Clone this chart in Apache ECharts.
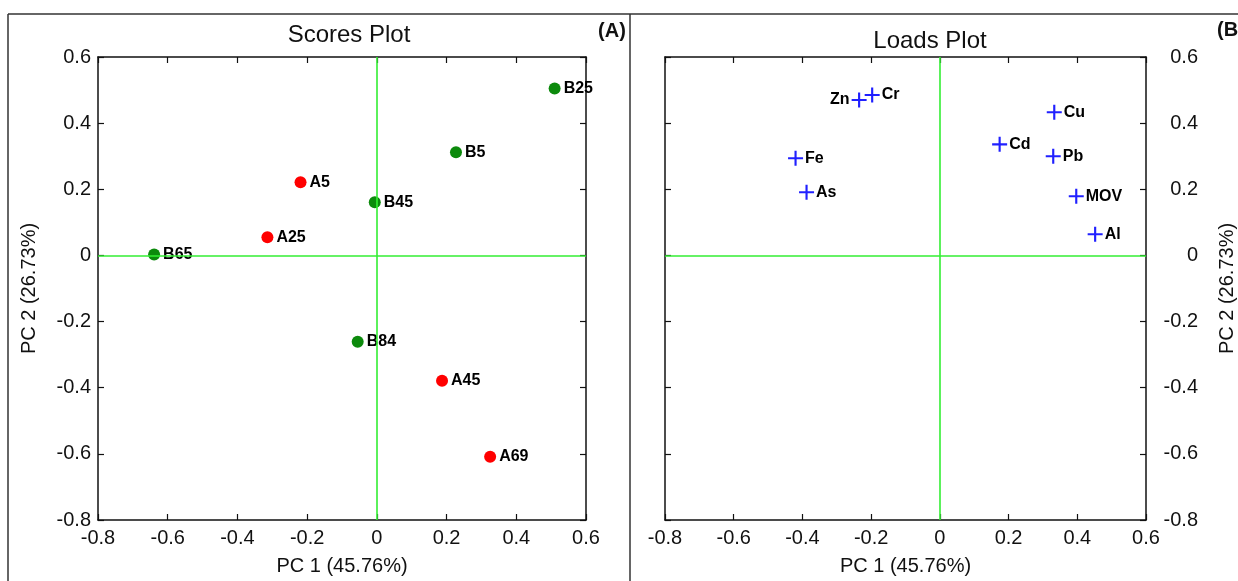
<!DOCTYPE html>
<html><head><meta charset="utf-8">
<script src="https://cdn.jsdelivr.net/npm/echarts@6/dist/echarts.min.js"></script>
<style>html,body{margin:0;padding:0;background:#fff}#c{width:1238px;height:581px}</style>
</head><body><div id="c"></div>
<script>
// Scores (A = red, B = green)
const groupANames = ['A5', 'A25', 'A45', 'A69'];
const groupAX = [-0.219, -0.314, 0.187, 0.325];
const groupAY = [0.221, 0.055, -0.379, -0.609];
const groupBNames = ['B25', 'B5', 'B45', 'B65', 'B84'];
const groupBX = [0.51, 0.227, -0.006, -0.639, -0.055];
const groupBY = [0.505, 0.312, 0.161, 0.003, -0.261];
// Loadings
const loadNames = ['Zn', 'Cr', 'Cu', 'Cd', 'Pb', 'Fe', 'As', 'MOV', 'Al'];
const loadX = [-0.235, -0.197, 0.333, 0.174, 0.330, -0.42, -0.388, 0.397, 0.452];
const loadY = [0.47, 0.485, 0.433, 0.336, 0.30, 0.294, 0.191, 0.179, 0.064];
const tickValues = [-0.8, -0.6, -0.4, -0.2, 0, 0.2, 0.4, 0.6];

const FONT = 'Liberation Sans, Arial, sans-serif';
const axisMin = tickValues[0], axisMax = tickValues[tickValues.length - 1];
const lineCol = '#111';
function axis(opts) {
  return Object.assign({
    type: 'value', min: axisMin, max: axisMax, interval: 0.2,
    splitLine: { show: false },
    axisLine: { show: true, onZero: false, lineStyle: { color: lineCol, width: 1.5 } },
    axisTick: { show: true, inside: true, length: 6, lineStyle: { color: lineCol, width: 1.2 } },
    axisLabel: { show: false }
  }, opts);
}
const labelStyle = { color: '#111', fontSize: 20, fontFamily: FONT, margin: 8 };
const nameStyle = { color: '#111', fontSize: 20, fontFamily: FONT };

function pts(xs, ys, names) { return xs.map((x, i) => ({ value: [x, ys[i]], name: names[i] })); }
const ptLabel = { show: true, position: 'right', distance: 3, formatter: '{b}', color: '#000', fontSize: 16, fontWeight: 'bold', fontFamily: FONT };
const zeroLines = {
  silent: true, symbol: 'none', label: { show: false },
  lineStyle: { color: '#33ee33', width: 1.6, type: 'solid', opacity: 1 },
  data: [{ xAxis: 0 }, { yAxis: 0 }]
};
const crossPath = 'path://M6,0h2v14h-2zM0,6h14v2h-14z';
const loadData = pts(loadX, loadY, loadNames).map(d => d.name === 'Zn' ? Object.assign(d, { label: { position: 'left' } }) : d);

const chart = echarts.init(document.getElementById('c'), null, { renderer: 'canvas' });
chart.setOption({
  animation: false,
  backgroundColor: '#fff',
  title: [
    { text: 'Scores Plot', left: 344, top: 18, textAlign: 'center', textStyle: { fontSize: 24, fontWeight: 'normal', color: '#111', fontFamily: FONT } },
    { text: 'Loads Plot', left: 925, top: 24, textAlign: 'center', textStyle: { fontSize: 24, fontWeight: 'normal', color: '#111', fontFamily: FONT } },
    { text: '(A)', left: 607, top: 16, textAlign: 'center', textStyle: { fontSize: 20, fontWeight: 'bold', color: '#111', fontFamily: FONT } },
    { text: '(B)', left: 1212, top: 15, textStyle: { fontSize: 20, fontWeight: 'bold', color: '#111', fontFamily: FONT } }
  ],
  grid: [
    { left: 98, right: 1238 - 586, top: 57, height: 464 },
    { left: 665, right: 1238 - 1148, top: 57, height: 464 }
  ],
  xAxis: [
    axis({ gridIndex: 0, position: 'bottom', axisLabel: labelStyle, name: 'PC 1 (45.76%)', nameLocation: 'middle', nameGap: 36, nameTextStyle: nameStyle }),
    axis({ gridIndex: 0, position: 'top' }),
    axis({ gridIndex: 1, position: 'bottom', axisLabel: labelStyle, name: 'PC 1 (45.76%)', nameLocation: 'middle', nameGap: 36, nameTextStyle: nameStyle }),
    axis({ gridIndex: 1, position: 'top' })
  ],
  yAxis: [
    axis({ gridIndex: 0, position: 'left', axisLabel: Object.assign({}, labelStyle, { margin: 7 }), name: 'PC 2 (26.73%)', nameLocation: 'middle', nameGap: 59, nameRotate: 90, nameTextStyle: nameStyle }),
    axis({ gridIndex: 0, position: 'right' }),
    axis({ gridIndex: 1, position: 'right', axisLabel: Object.assign({}, labelStyle, { margin: 52, align: 'right' }), name: 'PC 2 (26.73%)', nameLocation: 'middle', nameGap: 71, nameRotate: 90, nameTextStyle: nameStyle }),
    axis({ gridIndex: 1, position: 'left' })
  ],
  series: [
    { type: 'scatter', xAxisIndex: 0, yAxisIndex: 0, data: [], markLine: zeroLines },
    { type: 'scatter', name: 'A', xAxisIndex: 0, yAxisIndex: 0, symbol: 'circle', symbolSize: 12, itemStyle: { color: '#ff0000', opacity: 1 }, label: ptLabel, data: pts(groupAX, groupAY, groupANames) },
    { type: 'scatter', name: 'B', xAxisIndex: 0, yAxisIndex: 0, symbol: 'circle', symbolSize: 12, itemStyle: { color: '#0c8a0c', opacity: 1 }, label: ptLabel, data: pts(groupBX, groupBY, groupBNames) },
    { type: 'scatter', xAxisIndex: 2, yAxisIndex: 2, data: [], markLine: zeroLines },
    { type: 'scatter', name: 'Loads', xAxisIndex: 2, yAxisIndex: 2, symbol: crossPath, symbolSize: 15, itemStyle: { color: '#2020ff', opacity: 1 }, label: Object.assign({}, ptLabel, { distance: 2 }), data: loadData }
  ],
  graphic: [
    { type: 'line', shape: { x1: 8, y1: 14, x2: 1238, y2: 14 }, style: { stroke: '#333', lineWidth: 1.5 } },
    { type: 'line', shape: { x1: 8, y1: 14, x2: 8, y2: 581 }, style: { stroke: '#333', lineWidth: 1.5 } },
    { type: 'line', shape: { x1: 630, y1: 14, x2: 630, y2: 581 }, style: { stroke: '#333', lineWidth: 1.5 } }
  ]
});
</script></body></html>
